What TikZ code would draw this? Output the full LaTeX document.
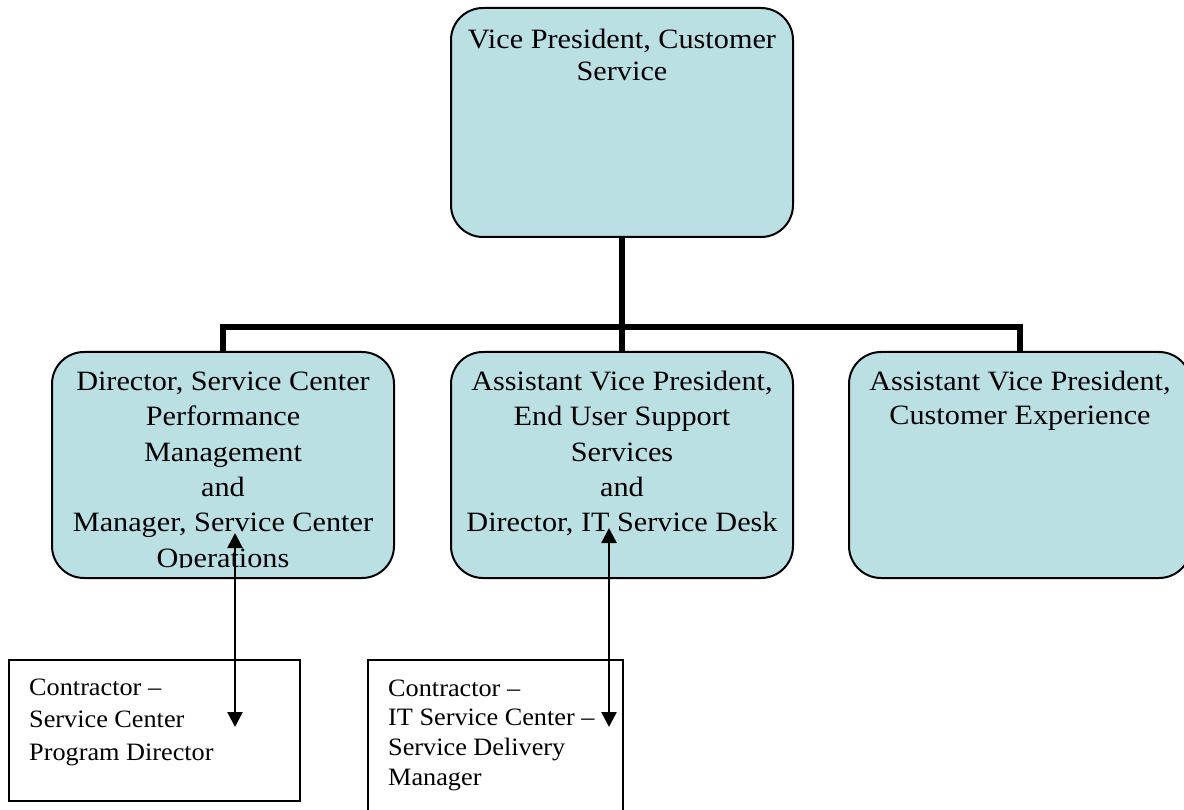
\documentclass[tikz,border=0pt]{standalone}
\usepackage{fontspec}
\setmainfont{Liberation Serif}
\newfontfamily\titleserif{Liberation Serif}[FakeStretch=1.08]
\newfontfamily\noteserif{Liberation Serif}[FakeStretch=1.05]
\usetikzlibrary{arrows.meta}

\definecolor{boxblue}{RGB}{187,224,227}
\newcommand\boxfont[1]{\titleserif\fontsize{28}{#1}\selectfont}
\newcommand\notefont[1]{\noteserif\fontsize{25}{#1}\selectfont}

\begin{document}
\begin{tikzpicture}[x=1pt,y=-1pt,
  orgbox/.style={draw=black, line width=2pt, fill=boxblue, rounded corners=32pt,
    minimum width=342pt, inner sep=0pt, outer sep=0pt, anchor=north west},
  notebox/.style={draw=black, line width=2pt, fill=white, inner sep=0pt,
    outer sep=0pt, anchor=north west},
  label/.style={inner sep=0pt, anchor=base},
  notelabel/.style={inner sep=0pt, anchor=base west},
  trunk/.style={line width=6pt, line join=miter},
  link/.style={line width=2.5pt,
    {Triangle[length=15pt,width=15pt]}-{Triangle[length=15pt,width=15pt]}}]

\useasboundingbox (0,0) rectangle (1184,810);
\fill[white] (0,0) rectangle (1184,810);

% reporting lines
\coordinate (bus) at (622,327);
\node[orgbox, minimum height=229pt] (vp) at (451,8) {};
\node[orgbox, minimum height=226pt] (scpm) at (52,352) {};
\node[orgbox, minimum height=226pt] (eus) at (451,352) {};
\node[orgbox, minimum height=226pt] (cx) at (849,352) {};
\draw[trunk] (vp.south) -- (eus.north);
\draw[trunk] (scpm.north) |- (bus) -| (cx.north);

% box titles
\node[label] (vpt) at (622,49) {\parbox[t]{330pt}{\centering\boxfont{32}%
  Vice President, Customer\\Service}};
\begin{scope}
  \clip (52,352) rectangle (394,567);
  \node[label] (scpmt) at (223,390.7) {\parbox[t]{330pt}{\centering\boxfont{35.3}%
    Director, Service Center\\Performance\\Management\\and\\Manager, Service Center\\Operations}};
\end{scope}
\node[label] (eust) at (622,390.7) {\parbox[t]{330pt}{\centering\boxfont{35.3}%
  Assistant Vice President,\\End User Support\\Services\\and\\Director, IT Service Desk}};
\node[label] (cxt) at (1020,390.7) {\parbox[t]{330pt}{\centering\boxfont{34.3}%
  Assistant Vice President,\\Customer Experience}};

% contractor boxes
\node[notebox, minimum width=291.5pt, minimum height=141pt] (pd) at (8.5,660) {};
\node[notebox, minimum width=255pt, minimum height=170pt] (sdm) at (367.5,659.5) {};
\node[notelabel] (pdt) at (29,695) {\parbox[t]{260pt}{\raggedright\notefont{32.5}%
  Contractor –\\Service Center\\Program Director}};
\node[notelabel] (sdmt) at (388,696) {\parbox[t]{230pt}{\raggedright\notefont{29.7}%
  Contractor –\\IT Service Center –\\Service Delivery\\Manager}};

% liaison arrows
\coordinate (pdup) at (235,533);
\coordinate (pddown) at (235,727);
\coordinate (sdmup) at (609,528);
\coordinate (sdmdown) at (609,727);
\draw[link] (pdup) -- (pddown);
\draw[link] (sdmup) -- (sdmdown);
\end{tikzpicture}
\end{document}
